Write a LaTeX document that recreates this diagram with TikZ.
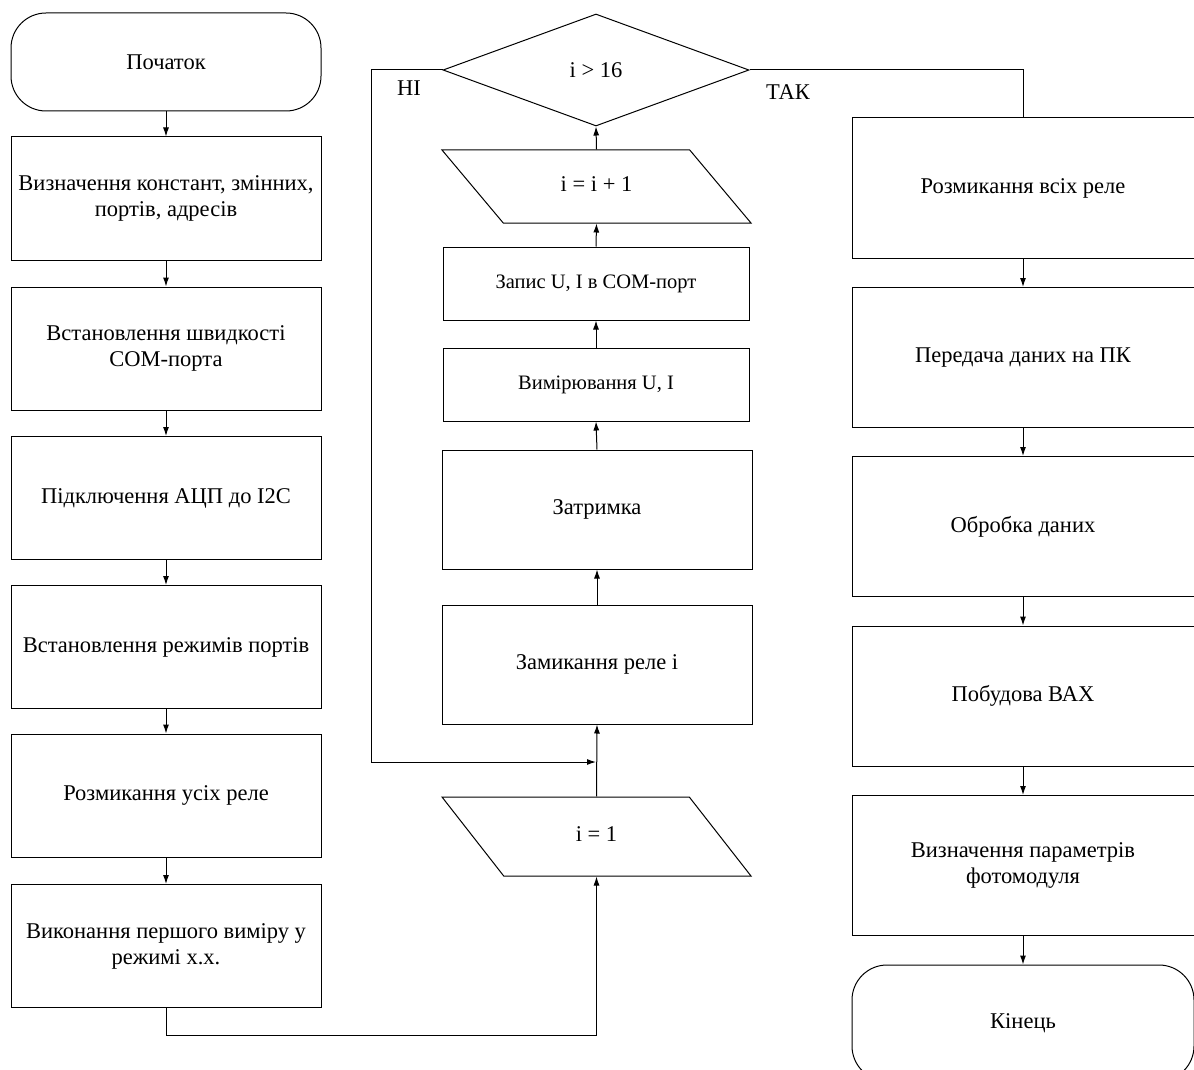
\documentclass[tikz,border=0pt]{standalone}
\usepackage{fontspec}
\setmainfont{Liberation Serif}
\usetikzlibrary{shapes.geometric,arrows.meta}

\begin{document}
\begin{tikzpicture}[x=1pt, y=-1pt, line width=1pt,
    box/.style={draw, align=center, inner sep=2pt, font=\fontsize{22.5}{26}\selectfont},
    term/.style={box, rounded corners=35pt},
    io/.style={draw, trapezium, trapezium left angle=130, trapezium right angle=50,
        trapezium stretches body, inner xsep=0pt, text height=15pt, text depth=5pt,
        font=\fontsize{22.5}{26}\selectfont},
    arr/.style={-{Latex[length=9pt,width=6pt]}}]

    % Frame
    \useasboundingbox (0,0) rectangle (1194,1070);
    \clip (0,0) rectangle (1194,1070);

    % Left column
    \node[term, minimum width=310pt, minimum height=98pt] (start) at (166,62) {Початок};
    \node[box, minimum width=310pt, minimum height=123pt] (v2) at (166,198.5) {Визначення констант, змінних,\\портів, адресів};
    \node[box, minimum width=310pt, minimum height=123pt] (v3) at (166,348.5) {Встановлення швидкості\\COM-порта};
    \node[box, minimum width=310pt, minimum height=123pt] (v4) at (166,498) {Підключення АЦП до I2C};
    \node[box, minimum width=310pt, minimum height=123pt] (v5) at (166,647) {Встановлення режимів портів};
    \node[box, minimum width=310pt, minimum height=123pt] (v6) at (166,795.5) {Розмикання усіх реле};
    \node[box, minimum width=310pt, minimum height=123pt] (v7) at (166,946) {Виконання першого виміру у\\режимі х.х.};

    % Middle column (loop)
    \node[draw, diamond, minimum width=306pt, minimum height=112pt, inner sep=0pt,
        font=\fontsize{22.5}{26}\selectfont] (cond) at (596,70) {i > 16};
    \node[io, inner ysep=26.5pt, minimum width=309pt] (inc) at (596.5,186.5) {i = i + 1};
    \node[box, minimum width=306pt, minimum height=73pt, font=\fontsize{20.5}{24}\selectfont] (save) at (596,283.5) {Запис U, I в COM-порт};
    \node[box, minimum width=306pt, minimum height=73pt, font=\fontsize{20.5}{24}\selectfont] (meas) at (596,384.5) {Вимірювання U, I};
    \node[box, minimum width=310pt, minimum height=119pt] (wait) at (597,509.5) {Затримка};
    \node[box, minimum width=310pt, minimum height=119pt] (close) at (597,664.5) {Замикання реле і};
    \node[io, trapezium left angle=128, trapezium right angle=52,
        inner ysep=29.5pt, minimum width=309pt] (init) at (596.5,836.5) {i = 1};

    % Right column
    \node[box, minimum width=342pt, minimum height=140pt] (r1) at (1023,188) {Розмикання всіх реле};
    \node[box, minimum width=342pt, minimum height=140pt] (r2) at (1023,357.5) {Передача даних на ПК};
    \node[box, minimum width=342pt, minimum height=140pt] (r3) at (1023,526.5) {Обробка даних};
    \node[box, minimum width=342pt, minimum height=140pt] (r4) at (1023,696) {Побудова ВАХ};
    \node[box, minimum width=342pt, minimum height=140pt] (r5) at (1023,865.5) {Визначення параметрів\\фотомодуля};
    \node[term, minimum width=342pt, minimum height=116pt] (stop) at (1023,1023) {Кінець};

    % Branch labels
    \node[font=\fontsize{22.5}{26}\selectfont] (no) at (409,88) {НІ};
    \node[font=\fontsize{22.5}{26}\selectfont] (yes) at (788,92) {ТАК};

    % Arrows
    \foreach \a/\b in {start/v2, v2/v3, v3/v4, v4/v5, v5/v6, v6/v7,
        r1/r2, r2/r3, r3/r4, r4/r5, r5/stop} {
        \draw[arr] (\a.south) -- (\b.north);
    }
    \foreach \a/\b in {init/close, close/wait, wait/meas, meas/save, save/inc, inc/cond} {
        \draw[arr] (\a.north) -- (\b.south);
    }
    \coordinate (join) at (596,762);
    \draw[arr] (v7.south) -- ++(0,27) -| (init.south);
    \draw[arr] (cond.west) -- ++(-71,0) |- (join);
    \draw (cond.east) -| (r1.north);
\end{tikzpicture}
\end{document}
